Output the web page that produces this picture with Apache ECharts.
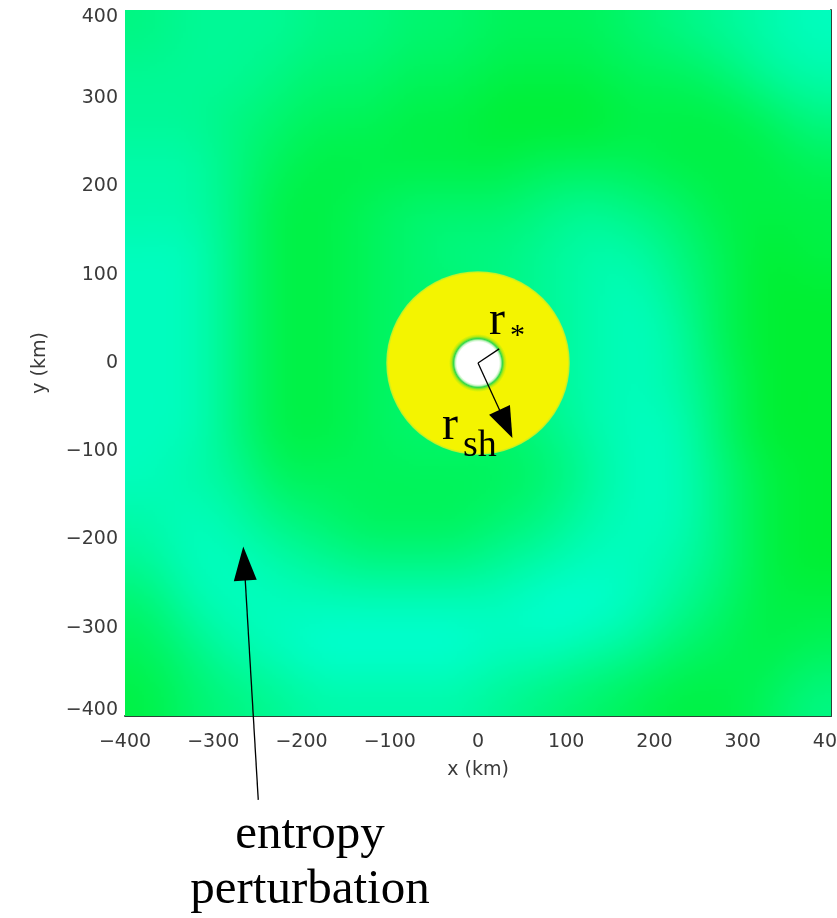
<!DOCTYPE html>
<html>
<head>
<meta charset="utf-8">
<script src="https://cdn.jsdelivr.net/npm/echarts@6/dist/echarts.min.js"></script>
<style>
  html, body { margin: 0; padding: 0; background: #ffffff; overflow: hidden; }
  #chart { width: 837px; height: 918px; }
</style>
</head>
<body>
<div id="chart"></div>
<script>
// Axis ticks (km)
const axisTicks = [-400, -300, -200, -100, 0, 100, 200, 300, 400];

// Centres of the sampled cells of the entropy field (km)
const xCentres = [-375, -325, -275, -225, -175, -125, -75, -25, 25, 75, 125, 175, 225, 275, 325, 375];
const yCentres = [375, 325, 275, 225, 175, 125, 75, 25, -25, -75, -125, -175, -225, -275, -325, -375];

// Entropy perturbation level per cell: 0 = low (green) ... 9 = high (cyan).
// One row per entry of yCentres, top to bottom.
const entropyRows = [
  [5, 6, 6, 6, 5, 5, 4, 4, 3, 3, 3, 4, 5, 6, 7, 8],
  [6, 6, 6, 5, 4, 4, 3, 3, 2, 2, 2, 3, 3, 4, 6, 7],
  [6, 6, 5, 4, 3, 3, 2, 2, 1, 1, 1, 2, 2, 2, 3, 5],
  [7, 7, 5, 3, 2, 2, 2, 2, 2, 3, 3, 3, 2, 2, 2, 3],
  [7, 7, 5, 2, 2, 3, 4, 4, 4, 5, 6, 5, 4, 2, 2, 2],
  [8, 8, 5, 2, 2, 3, 4, 5, 5, 6, 7, 7, 5, 3, 1, 2],
  [8, 8, 5, 2, 2, 3, 4, 4, 5, 6, 7, 8, 6, 3, 1, 1],
  [8, 8, 5, 2, 2, 3, 4, 4, 5, 6, 7, 8, 7, 3, 1, 1],
  [8, 8, 5, 2, 2, 3, 4, 4, 5, 6, 7, 8, 7, 4, 1, 1],
  [8, 8, 5, 2, 2, 3, 4, 4, 4, 5, 7, 8, 8, 4, 1, 1],
  [8, 7, 6, 3, 3, 3, 3, 3, 3, 4, 6, 8, 8, 5, 2, 1],
  [7, 8, 7, 5, 4, 3, 3, 3, 4, 5, 7, 8, 8, 5, 2, 1],
  [6, 8, 8, 7, 6, 5, 5, 5, 6, 7, 8, 8, 7, 5, 2, 1],
  [4, 7, 8, 8, 8, 8, 8, 8, 8, 9, 9, 8, 6, 4, 2, 2],
  [3, 5, 7, 8, 9, 9, 9, 9, 8, 8, 7, 6, 4, 3, 2, 3],
  [2, 4, 5, 6, 7, 7, 7, 7, 6, 5, 4, 3, 2, 2, 3, 5]
];
const levelMax = 9;

// Radii (km): proto-neutron star and stalled shock
const rStar = 25;
const rShock = 104;

// Annotation arrows in km: [x0, y0, x1, y1]
const arrowLines = [
  [0, 0, 24, 16],
  [0, 0, 39, -85],
  [-249, -495, -266, -208]
];

// Annotation texts, anchored in km
const annotationTexts = [
  { text: 'r', at: [12.5, 47.6] },
  { text: '*', at: [36.3, 30] },
  { text: 'r', at: [-40.8, -71.4] },
  { text: 'sh', at: [-17, -94] },
  { text: 'entropy', at: [-190.4, -535.4] },
  { text: 'perturbation', at: [-190.4, -597.7] }
];

// ---- styling ----
const lowColor = [0, 238, 30];
const highColor = [0, 255, 210];
const headLength = [0, 31, 34];
const headWidth = [0, 23, 23];
const textStyles = [
  { size: 48, align: 'left' },
  { size: 30, align: 'left' },
  { size: 48, align: 'left' },
  { size: 38, align: 'left' },
  { size: 49, align: 'center' },
  { size: 49, align: 'center' }
];
const serif = '"Liberation Serif", "DejaVu Serif", serif';
const sans = '"DejaVu Sans", "Liberation Sans", sans-serif';
const labelColor = '#3a3a3a';
const frameColor = '#2b4638';

function levelColor(v) {
  const t = v / levelMax;
  const c = lowColor.map((lo, k) => Math.round(lo + (highColor[k] - lo) * t));
  return 'rgb(' + c[0] + ',' + c[1] + ',' + c[2] + ')';
}

// Raster of the field: one pixel per cell (with the border cells repeated
// outward), enlarged with smoothing and softened so the shading is continuous.
const nx = xCentres.length, ny = yCentres.length;
const pad = 2, cellPx = 20, softPx = 9;
const small = document.createElement('canvas');
small.width = nx + 2 * pad;
small.height = ny + 2 * pad;
const sctx = small.getContext('2d');
for (let j = 0; j < ny + 2 * pad; j++) {
  for (let i = 0; i < nx + 2 * pad; i++) {
    const jj = Math.min(ny - 1, Math.max(0, j - pad));
    const ii = Math.min(nx - 1, Math.max(0, i - pad));
    sctx.fillStyle = levelColor(entropyRows[jj][ii]);
    sctx.fillRect(i, j, 1, 1);
  }
}
const big = document.createElement('canvas');
big.width = small.width * cellPx;
big.height = small.height * cellPx;
const bctx = big.getContext('2d');
bctx.imageSmoothingEnabled = true;
bctx.imageSmoothingQuality = 'high';
bctx.drawImage(small, 0, 0, big.width, big.height);
const fieldCanvas = document.createElement('canvas');
fieldCanvas.width = big.width;
fieldCanvas.height = big.height;
const fcx = fieldCanvas.getContext('2d');
fcx.filter = 'blur(' + softPx + 'px)';
fcx.drawImage(big, 0, 0);

const halfX = Math.abs(xCentres[1] - xCentres[0]) / 2;
const halfY = Math.abs(yCentres[1] - yCentres[0]) / 2;
const fieldCorners = [
  [xCentres[0] - halfX, yCentres[0] + halfY],
  [xCentres[nx - 1] + halfX, yCentres[ny - 1] - halfY]
];

const fmt = v => String(v).replace('-', '\u2212');
const axisMin = axisTicks[0];
const axisMax = axisTicks[axisTicks.length - 1];
const tickFont = { fontFamily: sans, fontSize: 19, color: labelColor };

const chart = echarts.init(document.getElementById('chart'), null, { renderer: 'canvas' });

const option = {
  backgroundColor: '#ffffff',
  animation: false,
  grid: { left: 125, top: 10, width: 706, height: 706, containLabel: false, outerBoundsMode: 'none' },
  xAxis: {
    type: 'value',
    min: axisMin,
    max: axisMax,
    interval: axisTicks[1] - axisTicks[0],
    name: 'x (km)',
    nameLocation: 'middle',
    nameGap: 45,
    nameTextStyle: tickFont,
    axisLine: { show: true, onZero: false, lineStyle: { color: frameColor, width: 2 } },
    axisTick: { show: false },
    splitLine: { show: false },
    axisLabel: Object.assign({ formatter: fmt, margin: 17, hideOverlap: false }, tickFont)
  },
  yAxis: [
    {
      type: 'value',
      min: axisMin,
      max: axisMax,
      interval: axisTicks[1] - axisTicks[0],
      name: 'y (km)',
      nameLocation: 'middle',
      nameGap: 75,
      nameRotate: 90,
      nameTextStyle: tickFont,
      axisLine: { show: false, onZero: false },
      axisTick: { show: false },
      splitLine: { show: false },
      axisLabel: Object.assign({
        margin: 7,
        formatter: v => v === axisMax ? '{hi|' + fmt(v) + '}' : (v === axisMin ? '{lo|' + fmt(v) + '}' : fmt(v)),
        rich: {
          hi: Object.assign({ padding: [14, 0, 0, 0] }, tickFont),
          lo: Object.assign({ padding: [0, 0, 12, 0] }, tickFont)
        }
      }, tickFont)
    },
    {
      type: 'value',
      position: 'right',
      min: axisMin,
      max: axisMax,
      interval: axisTicks[1] - axisTicks[0],
      axisLine: { show: true, onZero: false, lineStyle: { color: frameColor, width: 2 } },
      axisTick: { show: false },
      splitLine: { show: false },
      axisLabel: { show: false }
    }
  ],
  series: [
    {
      name: 'entropy field',
      type: 'custom',
      silent: true,
      z: 1,
      data: [fieldCorners[0]],
      renderItem: function (params, api) {
        const p0 = api.coord(fieldCorners[0]);
        const p1 = api.coord(fieldCorners[1]);
        return {
          type: 'image',
          style: {
            image: fieldCanvas,
            sx: pad * cellPx, sy: pad * cellPx, sWidth: nx * cellPx, sHeight: ny * cellPx,
            x: p0[0], y: p0[1], width: p1[0] - p0[0], height: p1[1] - p0[1]
          }
        };
      }
    },
    {
      name: 'post-shock region',
      type: 'custom',
      silent: true,
      z: 2,
      data: [[0, 0]],
      renderItem: function (params, api) {
        const c = api.coord([api.value(0), api.value(1)]);
        const r = api.size([rShock, 0])[0];
        const s = rStar / rShock;
        const grad = new echarts.graphic.RadialGradient(0.5, 0.5, 0.5, [
          { offset: 0, color: '#ffffff' },
          { offset: s - 0.01, color: '#ffffff' },
          { offset: s + 0.008, color: '#c4f3c0' },
          { offset: s + 0.025, color: '#2fd84a' },
          { offset: s + 0.05, color: '#b8ec10' },
          { offset: s + 0.075, color: '#f4f400' },
          { offset: 0.975, color: '#f4f400' },
          { offset: 1, color: '#a8f03a' }
        ]);
        return { type: 'circle', shape: { cx: c[0], cy: c[1], r: r }, style: { fill: grad } };
      }
    },
    {
      name: 'arrows',
      type: 'custom',
      silent: true,
      clip: false,
      z: 3,
      data: arrowLines,
      renderItem: function (params, api) {
        const i = params.dataIndex;
        const a = api.coord([api.value(0), api.value(1)]);
        const b = api.coord([api.value(2), api.value(3)]);
        const L = headLength[i], W = headWidth[i];
        const dx = b[0] - a[0], dy = b[1] - a[1];
        const len = Math.sqrt(dx * dx + dy * dy);
        const ux = dx / len, uy = dy / len;
        const children = [];
        const end = L > 0 ? [b[0] - ux * L * 0.8, b[1] - uy * L * 0.8] : b;
        children.push({
          type: 'line',
          shape: { x1: a[0], y1: a[1], x2: end[0], y2: end[1] },
          style: { stroke: '#000000', lineWidth: 1.3 }
        });
        if (L > 0) {
          const bx = b[0] - ux * L, by = b[1] - uy * L;
          children.push({
            type: 'polygon',
            shape: { points: [b, [bx - uy * W / 2, by + ux * W / 2], [bx + uy * W / 2, by - ux * W / 2]] },
            style: { fill: '#000000' }
          });
        }
        return { type: 'group', children: children };
      }
    },
    {
      name: 'labels',
      type: 'custom',
      silent: true,
      clip: false,
      z: 4,
      data: annotationTexts.map(t => t.at),
      renderItem: function (params, api) {
        const i = params.dataIndex;
        const p = api.coord([api.value(0), api.value(1)]);
        const st = textStyles[i];
        return {
          type: 'text',
          x: p[0],
          y: p[1],
          style: {
            text: annotationTexts[i].text,
            fill: '#000000',
            font: st.size + 'px ' + serif,
            align: st.align,
            verticalAlign: 'middle'
          }
        };
      }
    }
  ]
};

chart.setOption(option);
</script>
</body>
</html>
